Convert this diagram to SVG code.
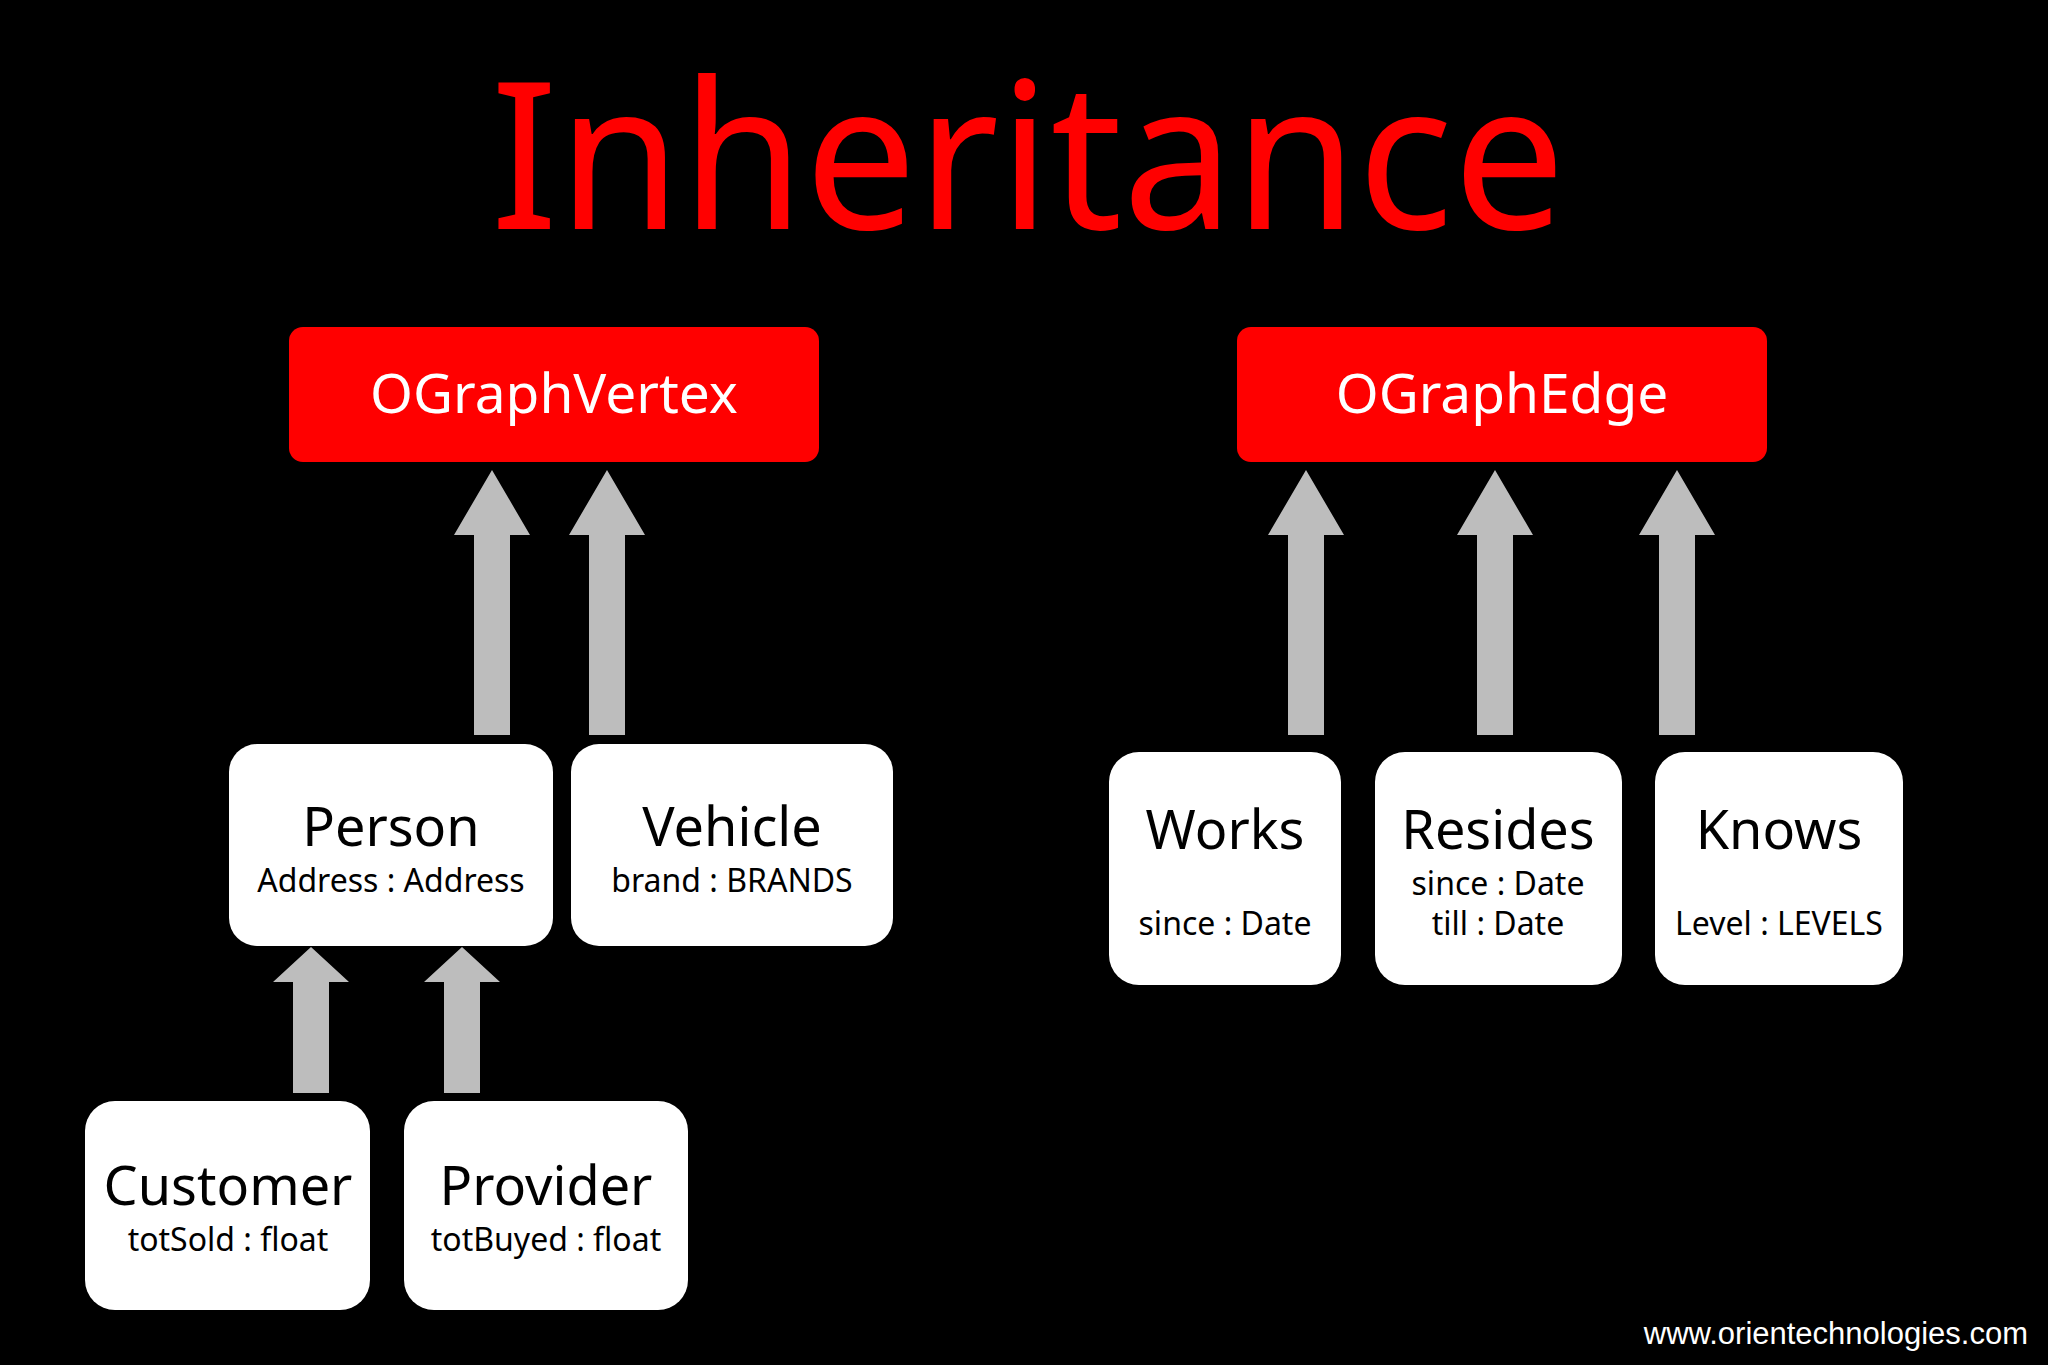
<svg xmlns="http://www.w3.org/2000/svg" width="2048" height="1365" viewBox="0 0 2048 1365">
<style>
.t{font-family:"Noto Sans","DejaVu Sans",sans-serif;text-anchor:middle;fill:#000}
.h{font-size:54px}
.a{font-size:32px}
.red{fill:#ff0000}
.box{fill:#fff}
.arr{fill:#bdbdbd}
</style>
<rect width="2048" height="1365" fill="#000"/>
<text x="1028" y="229" class="t red" style="font-size:205px" textLength="1075" lengthAdjust="spacingAndGlyphs">Inheritance</text>
<g id="connectors">
<path class="arr" d="M474 735V535H454L492 470L530 535H510V735Z"/>
<path class="arr" d="M589 735V535H569L607 470L645 535H625V735Z"/>
<path class="arr" d="M1288 735V535H1268L1306 470L1344 535H1324V735Z"/>
<path class="arr" d="M1477 735V535H1457L1495 470L1533 535H1513V735Z"/>
<path class="arr" d="M1659 735V535H1639L1677 470L1715 535H1695V735Z"/>
<path class="arr" d="M293 1093V982H273L311 947L349 982H329V1093Z"/>
<path class="arr" d="M444 1093V982H424L462 947L500 982H480V1093Z"/>
</g>
<g id="OGraphVertex"><rect class="red" x="289" y="327" width="530" height="135" rx="14"/><text x="554" y="413" class="t" style="font-size:55px;fill:#fff">OGraphVertex</text></g>
<g id="OGraphEdge"><rect class="red" x="1237" y="327" width="530" height="135" rx="14"/><text x="1502" y="413" class="t" style="font-size:55px;fill:#fff">OGraphEdge</text></g>
<g id="Person"><rect class="box" x="229" y="744" width="324" height="202" rx="28"/><text x="391" y="846" class="t h">Person</text><text x="391" y="892" class="t a">Address : Address</text></g>
<g id="Vehicle"><rect class="box" x="571" y="744" width="322" height="202" rx="28"/><text x="732" y="846" class="t h">Vehicle</text><text x="732" y="892" class="t a">brand : BRANDS</text></g>
<g id="Works"><rect class="box" x="1109" y="752" width="232" height="233" rx="30"/><text x="1225" y="849" class="t h">Works</text><text x="1225" y="935" class="t a">since : Date</text></g>
<g id="Resides"><rect class="box" x="1375" y="752" width="247" height="233" rx="30"/><text x="1498" y="849" class="t h">Resides</text><text x="1498" y="895" class="t a">since : Date</text><text x="1498" y="935" class="t a">till : Date</text></g>
<g id="Knows"><rect class="box" x="1655" y="752" width="248" height="233" rx="30"/><text x="1779" y="849" class="t h">Knows</text><text x="1779" y="935" class="t a">Level : LEVELS</text></g>
<g id="Customer"><rect class="box" x="85" y="1101" width="285" height="209" rx="30"/><text x="228" y="1205" class="t h">Customer</text><text x="228" y="1251" class="t a">totSold : float</text></g>
<g id="Provider"><rect class="box" x="404" y="1101" width="284" height="209" rx="30"/><text x="546" y="1205" class="t h">Provider</text><text x="546" y="1251" class="t a">totBuyed : float</text></g>
<text x="2028" y="1344" style="font-family:'Liberation Sans',Arial,sans-serif;font-size:31px;fill:#fff;text-anchor:end">www.orientechnologies.com</text>
</svg>
